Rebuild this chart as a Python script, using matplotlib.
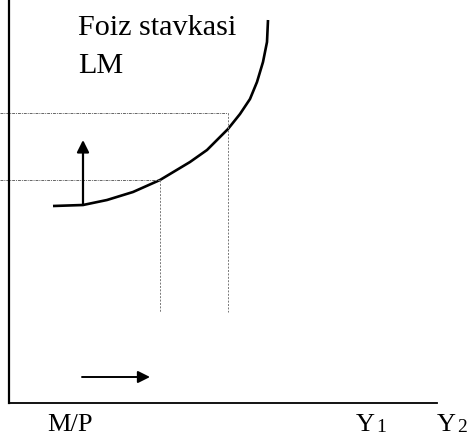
import matplotlib
matplotlib.use("Agg")
import matplotlib.pyplot as plt

plt.rcParams['font.family'] = ['Liberation Serif', 'DejaVu Serif']

# LM egri chizig'i (nuqtalar rasmdan o'qilgan)
lm_x = [44, 74, 98, 124, 151, 181, 198, 219, 231, 241, 248, 254, 258, 259]
lm_y = [197, 198, 203, 211, 223, 241, 253, 274, 289, 304, 321, 341, 361, 383]

# yordamchi chiziqlar: (x, y) kesishish nuqtalari
kesish_x = [151, 219]
kesish_y = [223, 290]
pastki_chegara = 91

# o'qdagi belgilar
belgi_pos = [61, 356, 437]
belgi_nom = ['M/P', 'Y', 'Y']
belgi_indeks = ['', '1', '2']

# strelkalar
strelka_yuqori = (74, 198, 263)   # x, y0, y1
strelka_ong = (26, 73, 141)       # y, x0, x1

fig = plt.figure(figsize=(4.67, 4.35), dpi=100)
ax = fig.add_axes([0, 0, 1, 1])
ax.set_xlim(-9, 458)
ax.set_ylim(-31, 404)

# o'qlar
for s in ['top', 'right']:
    ax.spines[s].set_visible(False)
ax.spines['left'].set_position(('data', 0))
ax.spines['bottom'].set_position(('data', 0))
ax.spines['left'].set_bounds(0, 404)
ax.spines['bottom'].set_bounds(0, 428)
ax.spines['left'].set_linewidth(1.6)
ax.spines['bottom'].set_linewidth(1.3)
ax.set_yticks([])
ax.set_xticks(belgi_pos)
ax.set_xticklabels(belgi_nom, fontsize=19)
ax.tick_params(axis='x', length=0, pad=7)

# Y ostidagi indekslar
for lbl, ind in zip(ax.get_xticklabels(), belgi_indeks):
    if ind:
        ax.annotate(ind, xy=(1, 0), xycoords=lbl, xytext=(1, 0),
                    textcoords='offset points', fontsize=14,
                    ha='left', va='bottom')

# LM egri chizig'i
ax.plot(lm_x, lm_y, color='black', lw=1.9, solid_capstyle='butt')

# punktir chiziqlar
for x, y in zip(kesish_x, kesish_y):
    ax.plot([-9, x], [y, y], color='#666666', lw=0.7, ls=(0, (3, 1, 1, 1)), clip_on=False)
    ax.plot([x, x], [y, pastki_chegara], color='#777777', lw=0.7, ls=(0, (2, 1.5)))

# strelkalar
x, y0, y1 = strelka_yuqori
ax.annotate('', xy=(x, y1), xytext=(x, y0),
            arrowprops=dict(arrowstyle='-|>', color='black', lw=1.6,
                            mutation_scale=18, shrinkA=0, shrinkB=0))
y, x0, x1 = strelka_ong
ax.annotate('', xy=(x1, y), xytext=(x0, y),
            arrowprops=dict(arrowstyle='-|>', color='black', lw=1.4,
                            mutation_scale=18, shrinkA=0, shrinkB=0))

# yozuvlar
ax.text(69, 369, 'Foiz stavkasi', fontsize=21.7, va='baseline', ha='left')
ax.text(69, 331, 'LM', fontsize=21.7, va='baseline', ha='left')

fig.savefig('out.png', dpi=100)
